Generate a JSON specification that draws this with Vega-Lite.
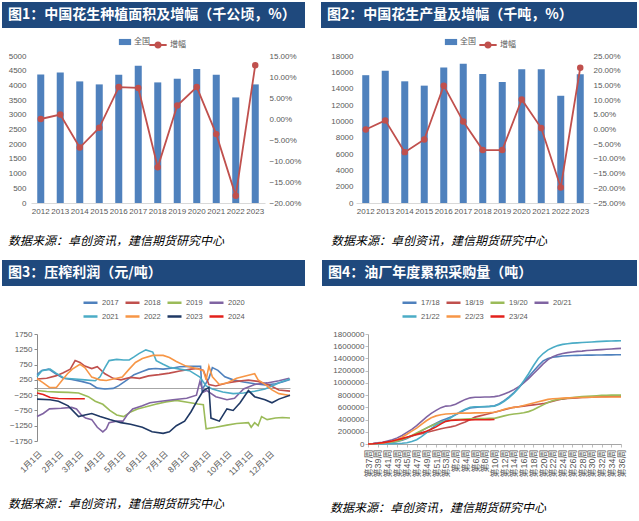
{
"$schema": "https://vega.github.io/schema/vega-lite/v6.json",
"padding": {"left": 2, "top": 2, "right": 0, "bottom": 0},
"background": "white",
"config": {
  "font": "Noto Sans CJK SC",
  "view": {"stroke": null},
  "axis": {"grid": false, "labelFont": "Liberation Sans, Noto Sans CJK SC", "labelFontSize": 8, "labelColor": "#595959", "domainColor": "#BFBFBF", "tickColor": "#BFBFBF", "labelOverlap": false, "labelFlush": false},
  "legend": {"labelFont": "Liberation Sans, Noto Sans CJK SC", "labelColor": "#595959"},
  "text": {"font": "Noto Sans CJK SC"}
},
"spacing": 13,
"resolve": {"scale": {"color": "independent", "fill": "independent", "stroke": "independent"}},
"vconcat": [
 {
  "spacing": 16,
  "resolve": {"scale": {"color": "independent", "fill": "independent", "stroke": "independent"}},
  "hconcat": [
   {
    "spacing": 7,
    "resolve": {"scale": {"color": "independent", "fill": "independent", "stroke": "independent"}},
    "vconcat": [
     {"width": 303, "height": 26, "view": {"fill": "#1F497D", "stroke": null},
      "data": {"values": [{"t": "图1：中国花生种植面积及增幅（千公顷，%）"}]},
      "mark": {"type": "text", "align": "left", "baseline": "middle", "color": "white", "fontSize": 14, "fontWeight": "bold", "dx": 6},
      "encoding": {"text": {"field": "t"}, "x": {"datum": 0, "type": "quantitative", "scale": {"domain": [0, 1]}, "axis": null}}},
     {"width": 303, "height": 147,
      "data": {"values": [
        {"year": "2012", "area": 4375, "growth": 0.0},
        {"year": "2013", "area": 4443, "growth": 0.0105},
        {"year": "2014", "area": 4136, "growth": -0.068},
        {"year": "2015", "area": 4034, "growth": -0.021},
        {"year": "2016", "area": 4364, "growth": 0.076},
        {"year": "2017", "area": 4670, "growth": 0.074},
        {"year": "2018", "area": 4102, "growth": -0.115},
        {"year": "2019", "area": 4227, "growth": 0.032},
        {"year": "2020", "area": 4557, "growth": 0.076},
        {"year": "2021", "area": 4364, "growth": -0.036},
        {"year": "2022", "area": 3591, "growth": -0.183},
        {"year": "2023", "area": 4034, "growth": 0.128}
      ]},
      "title": {"text": "数据来源：卓创资讯，建信期货研究中心", "orient": "bottom", "anchor": "start", "frame": "bounds", "offset": 21, "fontSize": 12, "fontStyle": "italic", "fontWeight": "normal", "color": "#000000", "font": "Noto Sans CJK SC", "dx": 6},
      "encoding": {"x": {"field": "year", "type": "ordinal", "title": null, "scale": {"paddingInner": 0, "paddingOuter": 0, "range": [29, 263]}, "axis": {"labelAngle": 0, "ticks": false, "domainColor": "#D9D9D9", "labelPadding": 4, "labelOverlap": false}}},
      "layer": [
        {"mark": {"type": "bar", "width": {"band": 0.36}},
         "encoding": {
           "y": {"field": "area", "type": "quantitative", "title": null, "scale": {"domain": [0, 5000], "nice": false}, "axis": {"values": [0, 500, 1000, 1500, 2000, 2500, 3000, 3500, 4000, 4500, 5000], "format": "d", "domain": false, "ticks": false, "offset": -29, "labelPadding": 5, "labelOverlap": false}},
           "fill": {"datum": "全国", "type": "nominal", "scale": {"range": ["#4F81BD"]}, "legend": {"orient": "none", "legendX": 116, "legendY": -21, "title": null, "symbolType": "M-1,-0.5H1V0.5H-1Z", "symbolSize": 150, "labelFontSize": 8, "labelOffset": 2}}
         }},
        {"mark": {"type": "line", "strokeWidth": 1.8, "point": {"filled": true, "size": 20, "color": "#C0504D"}},
         "encoding": {
           "y": {"field": "growth", "type": "quantitative", "title": null, "scale": {"domain": [-0.2, 0.15], "nice": false}, "axis": {"orient": "right", "format": ".2%", "values": [-0.2, -0.15, -0.1, -0.05, 0, 0.05, 0.1, 0.15], "domain": false, "ticks": false, "offset": -40, "labelPadding": 4, "labelOverlap": false}},
           "stroke": {"datum": "增幅", "type": "nominal", "scale": {"range": ["#C0504D"]}, "legend": {"orient": "none", "legendX": 146, "legendY": -21, "title": null, "symbolType": "M-1,0H1M0.3,0A0.3,0.3,0,1,1,-0.3,0A0.3,0.3,0,1,1,0.3,0", "symbolSize": 300, "symbolStrokeWidth": 1.8, "symbolFillColor": "#C0504D", "labelFontSize": 8, "labelOffset": 2}}
         }}
      ],
      "resolve": {"scale": {"y": "independent"}}
     }
    ]
   },
   {
    "spacing": 7,
    "resolve": {"scale": {"color": "independent", "fill": "independent", "stroke": "independent"}},
    "vconcat": [
     {"width": 316, "height": 26, "view": {"fill": "#1F497D", "stroke": null},
      "data": {"values": [{"t": "图2：中国花生产量及增幅（千吨，%）"}]},
      "mark": {"type": "text", "align": "left", "baseline": "middle", "color": "white", "fontSize": 14, "fontWeight": "bold", "dx": 6},
      "encoding": {"text": {"field": "t"}, "x": {"datum": 0, "type": "quantitative", "scale": {"domain": [0, 1]}, "axis": null}}},
     {"width": 316, "height": 147,
      "data": {"values": [
        {"year": "2012", "prod": 15650, "growth": 0.0},
        {"year": "2013", "prod": 16190, "growth": 0.031},
        {"year": "2014", "prod": 14900, "growth": -0.077},
        {"year": "2015", "prod": 14370, "growth": -0.034},
        {"year": "2016", "prod": 16600, "growth": 0.149},
        {"year": "2017", "prod": 17050, "growth": 0.027},
        {"year": "2018", "prod": 15810, "growth": -0.07},
        {"year": "2019", "prod": 14820, "growth": -0.07},
        {"year": "2020", "prod": 16390, "growth": 0.102},
        {"year": "2021", "prod": 16390, "growth": 0.005},
        {"year": "2022", "prod": 13130, "growth": -0.197},
        {"year": "2023", "prod": 15770, "growth": 0.21}
      ]},
      "title": {"text": "数据来源：卓创资讯，建信期货研究中心", "orient": "bottom", "anchor": "start", "frame": "bounds", "offset": 21, "fontSize": 12, "fontStyle": "italic", "fontWeight": "normal", "color": "#000000", "font": "Noto Sans CJK SC", "dx": 10},
      "encoding": {"x": {"field": "year", "type": "ordinal", "title": null, "scale": {"paddingInner": 0, "paddingOuter": 0, "range": [35, 269]}, "axis": {"labelAngle": 0, "ticks": false, "domainColor": "#D9D9D9", "labelPadding": 4, "labelOverlap": false}}},
      "layer": [
        {"mark": {"type": "bar", "width": {"band": 0.36}},
         "encoding": {
           "y": {"field": "prod", "type": "quantitative", "title": null, "scale": {"domain": [0, 18000], "nice": false}, "axis": {"values": [0, 2000, 4000, 6000, 8000, 10000, 12000, 14000, 16000, 18000], "format": "d", "domain": false, "ticks": false, "offset": -35, "labelPadding": 3, "labelOverlap": false}},
           "fill": {"datum": "全国", "type": "nominal", "scale": {"range": ["#4F81BD"]}, "legend": {"orient": "none", "legendX": 123, "legendY": -21, "title": null, "symbolType": "M-1,-0.5H1V0.5H-1Z", "symbolSize": 150, "labelFontSize": 8, "labelOffset": 2}}
         }},
        {"mark": {"type": "line", "strokeWidth": 1.8, "point": {"filled": true, "size": 20, "color": "#C0504D"}},
         "encoding": {
           "y": {"field": "growth", "type": "quantitative", "title": null, "scale": {"domain": [-0.25, 0.25], "nice": false}, "axis": {"orient": "right", "format": ".2%", "values": [-0.25, -0.2, -0.15, -0.1, -0.05, 0, 0.05, 0.1, 0.15, 0.2, 0.25], "domain": false, "ticks": false, "offset": -47, "labelPadding": 3, "labelOverlap": false}},
           "stroke": {"datum": "增幅", "type": "nominal", "scale": {"range": ["#C0504D"]}, "legend": {"orient": "none", "legendX": 157, "legendY": -21, "title": null, "symbolType": "M-1,0H1M0.3,0A0.3,0.3,0,1,1,-0.3,0A0.3,0.3,0,1,1,0.3,0", "symbolSize": 300, "symbolStrokeWidth": 1.8, "symbolFillColor": "#C0504D", "labelFontSize": 8, "labelOffset": 2}}
         }}
      ],
      "resolve": {"scale": {"y": "independent"}}
     }
    ]
   }
  ]
 },
 {
  "spacing": 17,
  "resolve": {"scale": {"color": "independent", "fill": "independent", "stroke": "independent"}},
  "hconcat": [
   {
    "spacing": 8,
    "resolve": {"scale": {"color": "independent", "fill": "independent", "stroke": "independent"}},
    "vconcat": [
     {"width": 303, "height": 26, "view": {"fill": "#1F497D", "stroke": null},
      "data": {"values": [{"t": "图3：压榨利润（元/吨）"}]},
      "mark": {"type": "text", "align": "left", "baseline": "middle", "color": "white", "fontSize": 14, "fontWeight": "bold", "dx": 6},
      "encoding": {"text": {"field": "t"}, "x": {"datum": 0, "type": "quantitative", "scale": {"domain": [0, 1]}, "axis": null}}},
     {"width": 303, "height": 107,
      "data": {"values": [
        {"yr": "2017", "d": "2000/01/01", "v": 420}, {"yr": "2017", "d": "2000/01/08", "v": 560}, {"yr": "2017", "d": "2000/01/18", "v": 600}, {"yr": "2017", "d": "2000/01/28", "v": 450}, {"yr": "2017", "d": "2000/02/08", "v": 300}, {"yr": "2017", "d": "2000/02/20", "v": 260}, {"yr": "2017", "d": "2000/03/05", "v": 200}, {"yr": "2017", "d": "2000/03/18", "v": 120}, {"yr": "2017", "d": "2000/03/28", "v": -20}, {"yr": "2017", "d": "2000/04/08", "v": -50}, {"yr": "2017", "d": "2000/04/20", "v": -30}, {"yr": "2017", "d": "2000/04/28", "v": 60}, {"yr": "2017", "d": "2000/05/10", "v": 250}, {"yr": "2017", "d": "2000/05/20", "v": 420}, {"yr": "2017", "d": "2000/06/01", "v": 520}, {"yr": "2017", "d": "2000/06/10", "v": 600}, {"yr": "2017", "d": "2000/06/20", "v": 620}, {"yr": "2017", "d": "2000/07/01", "v": 600}, {"yr": "2017", "d": "2000/07/15", "v": 640}, {"yr": "2017", "d": "2000/07/25", "v": 680}, {"yr": "2017", "d": "2000/08/10", "v": 690}, {"yr": "2017", "d": "2000/08/24", "v": 690}, {"yr": "2017", "d": "2000/08/26", "v": -80}, {"yr": "2017", "d": "2000/09/05", "v": 300}, {"yr": "2017", "d": "2000/09/10", "v": 650}, {"yr": "2017", "d": "2000/09/18", "v": 560}, {"yr": "2017", "d": "2000/09/28", "v": 350}, {"yr": "2017", "d": "2000/10/10", "v": 250}, {"yr": "2017", "d": "2000/10/25", "v": 180}, {"yr": "2017", "d": "2000/11/10", "v": 120}, {"yr": "2017", "d": "2000/11/25", "v": 80}, {"yr": "2017", "d": "2000/12/10", "v": 120}, {"yr": "2017", "d": "2000/12/20", "v": 180}, {"yr": "2017", "d": "2000/12/31", "v": 260},
        {"yr": "2018", "d": "2000/01/01", "v": 280}, {"yr": "2018", "d": "2000/01/15", "v": 300}, {"yr": "2018", "d": "2000/01/28", "v": 380}, {"yr": "2018", "d": "2000/02/08", "v": 480}, {"yr": "2018", "d": "2000/02/18", "v": 600}, {"yr": "2018", "d": "2000/02/25", "v": 880}, {"yr": "2018", "d": "2000/03/03", "v": 820}, {"yr": "2018", "d": "2000/03/10", "v": 700}, {"yr": "2018", "d": "2000/03/20", "v": 620}, {"yr": "2018", "d": "2000/03/28", "v": 680}, {"yr": "2018", "d": "2000/04/08", "v": 450}, {"yr": "2018", "d": "2000/04/20", "v": 300}, {"yr": "2018", "d": "2000/05/01", "v": 250}, {"yr": "2018", "d": "2000/05/15", "v": 330}, {"yr": "2018", "d": "2000/05/28", "v": 300}, {"yr": "2018", "d": "2000/06/10", "v": 380}, {"yr": "2018", "d": "2000/06/25", "v": 420}, {"yr": "2018", "d": "2000/07/10", "v": 470}, {"yr": "2018", "d": "2000/07/25", "v": 540}, {"yr": "2018", "d": "2000/08/10", "v": 600}, {"yr": "2018", "d": "2000/08/20", "v": 620}, {"yr": "2018", "d": "2000/08/28", "v": 560}, {"yr": "2018", "d": "2000/09/05", "v": 100}, {"yr": "2018", "d": "2000/09/15", "v": 50}, {"yr": "2018", "d": "2000/10/01", "v": 150}, {"yr": "2018", "d": "2000/10/15", "v": 200}, {"yr": "2018", "d": "2000/11/01", "v": 240}, {"yr": "2018", "d": "2000/11/15", "v": 200}, {"yr": "2018", "d": "2000/12/01", "v": 80}, {"yr": "2018", "d": "2000/12/15", "v": -80}, {"yr": "2018", "d": "2000/12/31", "v": -120},
        {"yr": "2019", "d": "2000/01/01", "v": -100}, {"yr": "2019", "d": "2000/01/15", "v": -130}, {"yr": "2019", "d": "2000/02/01", "v": -150}, {"yr": "2019", "d": "2000/02/15", "v": -160}, {"yr": "2019", "d": "2000/03/01", "v": -180}, {"yr": "2019", "d": "2000/03/15", "v": -300}, {"yr": "2019", "d": "2000/03/25", "v": -450}, {"yr": "2019", "d": "2000/04/05", "v": -550}, {"yr": "2019", "d": "2000/04/15", "v": -750}, {"yr": "2019", "d": "2000/04/25", "v": -900}, {"yr": "2019", "d": "2000/05/05", "v": -950}, {"yr": "2019", "d": "2000/05/15", "v": -800}, {"yr": "2019", "d": "2000/05/25", "v": -700}, {"yr": "2019", "d": "2000/06/05", "v": -640}, {"yr": "2019", "d": "2000/06/20", "v": -550}, {"yr": "2019", "d": "2000/07/05", "v": -470}, {"yr": "2019", "d": "2000/07/20", "v": -420}, {"yr": "2019", "d": "2000/08/05", "v": -480}, {"yr": "2019", "d": "2000/08/20", "v": -540}, {"yr": "2019", "d": "2000/08/28", "v": -560}, {"yr": "2019", "d": "2000/09/01", "v": -1350}, {"yr": "2019", "d": "2000/09/15", "v": -1300}, {"yr": "2019", "d": "2000/10/01", "v": -1230}, {"yr": "2019", "d": "2000/10/15", "v": -1180}, {"yr": "2019", "d": "2000/11/01", "v": -1150}, {"yr": "2019", "d": "2000/11/05", "v": -1300}, {"yr": "2019", "d": "2000/11/10", "v": -1150}, {"yr": "2019", "d": "2000/11/15", "v": -1250}, {"yr": "2019", "d": "2000/11/20", "v": -950}, {"yr": "2019", "d": "2000/11/28", "v": -1050}, {"yr": "2019", "d": "2000/12/10", "v": -1000}, {"yr": "2019", "d": "2000/12/20", "v": -980}, {"yr": "2019", "d": "2000/12/31", "v": -1000},
        {"yr": "2020", "d": "2000/01/01", "v": -950}, {"yr": "2020", "d": "2000/01/10", "v": -850}, {"yr": "2020", "d": "2000/01/19", "v": -700}, {"yr": "2020", "d": "2000/02/05", "v": -680}, {"yr": "2020", "d": "2000/02/20", "v": -650}, {"yr": "2020", "d": "2000/02/27", "v": -700}, {"yr": "2020", "d": "2000/03/05", "v": -900}, {"yr": "2020", "d": "2000/03/11", "v": -1000}, {"yr": "2020", "d": "2000/03/20", "v": -1050}, {"yr": "2020", "d": "2000/03/28", "v": -1300}, {"yr": "2020", "d": "2000/04/05", "v": -1450}, {"yr": "2020", "d": "2000/04/10", "v": -1350}, {"yr": "2020", "d": "2000/04/14", "v": -1150}, {"yr": "2020", "d": "2000/04/25", "v": -1100}, {"yr": "2020", "d": "2000/05/04", "v": -1100}, {"yr": "2020", "d": "2000/05/10", "v": -900}, {"yr": "2020", "d": "2000/05/18", "v": -700}, {"yr": "2020", "d": "2000/06/01", "v": -600}, {"yr": "2020", "d": "2000/06/12", "v": -500}, {"yr": "2020", "d": "2000/06/28", "v": -450}, {"yr": "2020", "d": "2000/07/15", "v": -400}, {"yr": "2020", "d": "2000/08/04", "v": -350}, {"yr": "2020", "d": "2000/08/18", "v": -250}, {"yr": "2020", "d": "2000/08/23", "v": 200}, {"yr": "2020", "d": "2000/08/28", "v": -150}, {"yr": "2020", "d": "2000/09/02", "v": -100}, {"yr": "2020", "d": "2000/09/15", "v": -300}, {"yr": "2020", "d": "2000/10/01", "v": -400}, {"yr": "2020", "d": "2000/10/12", "v": -350}, {"yr": "2020", "d": "2000/10/25", "v": -50}, {"yr": "2020", "d": "2000/11/10", "v": 100}, {"yr": "2020", "d": "2000/11/28", "v": 150}, {"yr": "2020", "d": "2000/12/15", "v": 220}, {"yr": "2020", "d": "2000/12/30", "v": 300},
        {"yr": "2021", "d": "2000/01/01", "v": 350}, {"yr": "2021", "d": "2000/01/08", "v": 550}, {"yr": "2021", "d": "2000/01/20", "v": 600}, {"yr": "2021", "d": "2000/01/29", "v": 460}, {"yr": "2021", "d": "2000/02/10", "v": 300}, {"yr": "2021", "d": "2000/02/25", "v": 280}, {"yr": "2021", "d": "2000/03/10", "v": 250}, {"yr": "2021", "d": "2000/03/25", "v": 220}, {"yr": "2021", "d": "2000/04/01", "v": 350}, {"yr": "2021", "d": "2000/04/08", "v": 650}, {"yr": "2021", "d": "2000/04/14", "v": 880}, {"yr": "2021", "d": "2000/04/25", "v": 920}, {"yr": "2021", "d": "2000/05/05", "v": 900}, {"yr": "2021", "d": "2000/05/13", "v": 900}, {"yr": "2021", "d": "2000/05/20", "v": 1000}, {"yr": "2021", "d": "2000/05/27", "v": 1110}, {"yr": "2021", "d": "2000/06/06", "v": 1230}, {"yr": "2021", "d": "2000/06/16", "v": 1160}, {"yr": "2021", "d": "2000/06/21", "v": 880}, {"yr": "2021", "d": "2000/07/01", "v": 760}, {"yr": "2021", "d": "2000/07/10", "v": 660}, {"yr": "2021", "d": "2000/07/25", "v": 600}, {"yr": "2021", "d": "2000/08/08", "v": 550}, {"yr": "2021", "d": "2000/08/23", "v": 340}, {"yr": "2021", "d": "2000/09/01", "v": 50}, {"yr": "2021", "d": "2000/09/10", "v": -50}, {"yr": "2021", "d": "2000/09/25", "v": -150}, {"yr": "2021", "d": "2000/10/10", "v": -200}, {"yr": "2021", "d": "2000/10/25", "v": -180}, {"yr": "2021", "d": "2000/11/10", "v": -120}, {"yr": "2021", "d": "2000/11/25", "v": -50}, {"yr": "2021", "d": "2000/12/10", "v": 100}, {"yr": "2021", "d": "2000/12/20", "v": 200}, {"yr": "2021", "d": "2000/12/31", "v": 280},
        {"yr": "2022", "d": "2000/01/01", "v": 290}, {"yr": "2022", "d": "2000/01/10", "v": 150}, {"yr": "2022", "d": "2000/01/19", "v": 0}, {"yr": "2022", "d": "2000/01/29", "v": 0}, {"yr": "2022", "d": "2000/02/06", "v": 230}, {"yr": "2022", "d": "2000/02/14", "v": 450}, {"yr": "2022", "d": "2000/02/21", "v": 600}, {"yr": "2022", "d": "2000/03/03", "v": 760}, {"yr": "2022", "d": "2000/03/10", "v": 650}, {"yr": "2022", "d": "2000/03/20", "v": 340}, {"yr": "2022", "d": "2000/04/01", "v": 250}, {"yr": "2022", "d": "2000/04/10", "v": 230}, {"yr": "2022", "d": "2000/04/20", "v": 280}, {"yr": "2022", "d": "2000/05/03", "v": 340}, {"yr": "2022", "d": "2000/05/13", "v": 600}, {"yr": "2022", "d": "2000/05/22", "v": 820}, {"yr": "2022", "d": "2000/06/01", "v": 950}, {"yr": "2022", "d": "2000/06/16", "v": 1050}, {"yr": "2022", "d": "2000/07/01", "v": 1050}, {"yr": "2022", "d": "2000/07/10", "v": 980}, {"yr": "2022", "d": "2000/07/20", "v": 850}, {"yr": "2022", "d": "2000/08/03", "v": 700}, {"yr": "2022", "d": "2000/08/18", "v": 620}, {"yr": "2022", "d": "2000/08/28", "v": 550}, {"yr": "2022", "d": "2000/09/01", "v": 250}, {"yr": "2022", "d": "2000/09/05", "v": 700}, {"yr": "2022", "d": "2000/09/10", "v": 350}, {"yr": "2022", "d": "2000/09/20", "v": 100}, {"yr": "2022", "d": "2000/10/01", "v": 150}, {"yr": "2022", "d": "2000/10/15", "v": 300}, {"yr": "2022", "d": "2000/11/01", "v": 400}, {"yr": "2022", "d": "2000/11/10", "v": 450}, {"yr": "2022", "d": "2000/11/15", "v": 250}, {"yr": "2022", "d": "2000/11/25", "v": 100}, {"yr": "2022", "d": "2000/12/05", "v": -80}, {"yr": "2022", "d": "2000/12/15", "v": -200}, {"yr": "2022", "d": "2000/12/31", "v": -260},
        {"yr": "2023", "d": "2000/01/01", "v": -380}, {"yr": "2023", "d": "2000/01/20", "v": -400}, {"yr": "2023", "d": "2000/02/01", "v": -450}, {"yr": "2023", "d": "2000/02/15", "v": -600}, {"yr": "2023", "d": "2000/03/01", "v": -950}, {"yr": "2023", "d": "2000/03/10", "v": -900}, {"yr": "2023", "d": "2000/03/20", "v": -850}, {"yr": "2023", "d": "2000/04/01", "v": -950}, {"yr": "2023", "d": "2000/04/15", "v": -1050}, {"yr": "2023", "d": "2000/05/01", "v": -1150}, {"yr": "2023", "d": "2000/05/15", "v": -1200}, {"yr": "2023", "d": "2000/06/01", "v": -1300}, {"yr": "2023", "d": "2000/06/15", "v": -1450}, {"yr": "2023", "d": "2000/07/01", "v": -1500}, {"yr": "2023", "d": "2000/07/10", "v": -1450}, {"yr": "2023", "d": "2000/07/20", "v": -1250}, {"yr": "2023", "d": "2000/08/01", "v": -1100}, {"yr": "2023", "d": "2000/08/10", "v": -800}, {"yr": "2023", "d": "2000/08/20", "v": -400}, {"yr": "2023", "d": "2000/08/28", "v": -100}, {"yr": "2023", "d": "2000/09/05", "v": 0}, {"yr": "2023", "d": "2000/09/08", "v": -1000}, {"yr": "2023", "d": "2000/09/20", "v": -1100}, {"yr": "2023", "d": "2000/10/01", "v": -700}, {"yr": "2023", "d": "2000/10/10", "v": -750}, {"yr": "2023", "d": "2000/10/20", "v": -500}, {"yr": "2023", "d": "2000/11/01", "v": -100}, {"yr": "2023", "d": "2000/11/10", "v": -300}, {"yr": "2023", "d": "2000/11/25", "v": -400}, {"yr": "2023", "d": "2000/12/05", "v": -500}, {"yr": "2023", "d": "2000/12/15", "v": -380}, {"yr": "2023", "d": "2000/12/31", "v": -250},
        {"yr": "2024", "d": "2000/01/01", "v": -180}, {"yr": "2024", "d": "2000/01/10", "v": -230}, {"yr": "2024", "d": "2000/01/20", "v": -330}, {"yr": "2024", "d": "2000/02/01", "v": -360}, {"yr": "2024", "d": "2000/02/20", "v": -370}, {"yr": "2024", "d": "2000/03/10", "v": -370}
      ]},
      "title": {"text": "数据来源：卓创资讯，建信期货研究中心", "orient": "bottom", "anchor": "start", "frame": "bounds", "offset": 22, "fontSize": 12, "fontStyle": "italic", "fontWeight": "normal", "color": "#000000", "font": "Noto Sans CJK SC", "dx": 6},
      "mark": {"type": "line", "strokeWidth": 1.6},
      "encoding": {
        "x": {"field": "d", "type": "temporal", "title": null, "scale": {"domain": [{"year": 2000, "month": 1, "date": 1}, {"year": 2000, "month": 12, "date": 31}], "range": [35, 288], "nice": false},
              "axis": {"values": [{"year": 2000, "month": 1, "date": 1}, {"year": 2000, "month": 2, "date": 1}, {"year": 2000, "month": 3, "date": 1}, {"year": 2000, "month": 4, "date": 1}, {"year": 2000, "month": 5, "date": 1}, {"year": 2000, "month": 6, "date": 1}, {"year": 2000, "month": 7, "date": 1}, {"year": 2000, "month": 8, "date": 1}, {"year": 2000, "month": 9, "date": 1}, {"year": 2000, "month": 10, "date": 1}, {"year": 2000, "month": 11, "date": 1}, {"year": 2000, "month": 12, "date": 1}], "format": "%-m月%-d日", "labelAngle": -45, "labelFontSize": 8.5, "domain": false, "ticks": false, "labelPadding": 8, "labelOverlap": false}},
        "y": {"field": "v", "type": "quantitative", "title": null, "scale": {"domain": [-1750, 1750], "nice": false},
              "axis": {"values": [-1750, -1250, -750, -250, 0, 250, 750, 1250, 1750], "format": "d", "domain": true, "ticks": true, "tickSize": 3, "offset": -35, "labelPadding": 2, "domainColor": "#8C8C8C", "tickColor": "#8C8C8C", "labelOverlap": false,
                       "grid": true, "gridColor": {"condition": {"test": "datum.value === 0", "value": "#A6A6A6"}, "value": "transparent"},
                       "labelColor": {"condition": {"test": "datum.value === 0", "value": "transparent"}, "value": "#595959"}}},
        "color": {"field": "yr", "type": "nominal", "scale": {"domain": ["2017", "2018", "2019", "2020", "2021", "2022", "2023", "2024"], "range": ["#4F81BD", "#C0504D", "#9BBB59", "#8064A2", "#4BACC6", "#F79646", "#1F3864", "#E3201B"]},
                  "legend": {"orient": "none", "legendX": 80, "legendY": -40, "title": null, "columns": 4, "direction": "horizontal", "symbolType": "stroke", "symbolSize": 196, "symbolStrokeWidth": 2.5, "labelFontSize": 7.5, "labelOffset": 3, "columnPadding": 1, "rowPadding": 0}},
        "strokeWidth": {"condition": {"test": "datum.yr === '2024'", "value": 2.6}, "value": 1.5}
      }
     }
    ]
   },
   {
    "spacing": 8,
    "resolve": {"scale": {"color": "independent", "fill": "independent", "stroke": "independent"}},
    "vconcat": [
     {"width": 315, "height": 26, "view": {"fill": "#1F497D", "stroke": null},
      "data": {"values": [{"t": "图4：油厂年度累积采购量（吨）"}]},
      "mark": {"type": "text", "align": "left", "baseline": "middle", "color": "white", "fontSize": 14, "fontWeight": "bold", "dx": 6},
      "encoding": {"text": {"field": "t"}, "x": {"datum": 0, "type": "quantitative", "scale": {"domain": [0, 1]}, "axis": null}}},
     {"width": 315, "height": 110,
      "data": {"values": [
        {"w": "第37周", "17/18": 0, "18/19": 0, "19/20": 0, "20/21": 0, "21/22": 0, "22/23": 0, "23/24": 0},
        {"w": "第38周", "17/18": 3000, "18/19": 5000, "19/20": 2000, "20/21": 8000, "21/22": 0, "22/23": 3000, "23/24": 5000},
        {"w": "第39周", "17/18": 6000, "18/19": 12000, "19/20": 5000, "20/21": 18000, "21/22": 0, "22/23": 8000, "23/24": 12000},
        {"w": "第40周", "17/18": 10000, "18/19": 22000, "19/20": 10000, "20/21": 30000, "21/22": 2000, "22/23": 15000, "23/24": 22000},
        {"w": "第41周", "17/18": 15000, "18/19": 35000, "19/20": 18000, "20/21": 50000, "21/22": 4000, "22/23": 28000, "23/24": 35000},
        {"w": "第42周", "17/18": 25000, "18/19": 50000, "19/20": 30000, "20/21": 70000, "21/22": 6000, "22/23": 45000, "23/24": 50000},
        {"w": "第43周", "17/18": 40000, "18/19": 70000, "19/20": 45000, "20/21": 100000, "21/22": 8000, "22/23": 70000, "23/24": 68000},
        {"w": "第44周", "17/18": 60000, "18/19": 90000, "19/20": 70000, "20/21": 140000, "21/22": 12000, "22/23": 110000, "23/24": 88000},
        {"w": "第45周", "17/18": 90000, "18/19": 110000, "19/20": 100000, "20/21": 190000, "21/22": 20000, "22/23": 160000, "23/24": 110000},
        {"w": "第46周", "17/18": 130000, "18/19": 130000, "19/20": 140000, "20/21": 240000, "21/22": 40000, "22/23": 210000, "23/24": 135000},
        {"w": "第47周", "17/18": 170000, "18/19": 150000, "19/20": 180000, "20/21": 300000, "21/22": 70000, "22/23": 260000, "23/24": 160000},
        {"w": "第48周", "17/18": 215000, "18/19": 170000, "19/20": 220000, "20/21": 370000, "21/22": 120000, "22/23": 320000, "23/24": 185000},
        {"w": "第49周", "17/18": 260000, "18/19": 190000, "19/20": 260000, "20/21": 440000, "21/22": 180000, "22/23": 380000, "23/24": 210000},
        {"w": "第50周", "17/18": 300000, "18/19": 210000, "19/20": 300000, "20/21": 500000, "21/22": 250000, "22/23": 430000, "23/24": 240000},
        {"w": "第51周", "17/18": 340000, "18/19": 230000, "19/20": 330000, "20/21": 550000, "21/22": 310000, "22/23": 460000, "23/24": 280000},
        {"w": "第52周", "17/18": 380000, "18/19": 250000, "19/20": 360000, "20/21": 595000, "21/22": 350000, "22/23": 480000, "23/24": 330000},
        {"w": "第53周", "17/18": 410000, "18/19": 265000, "19/20": 380000, "20/21": 620000, "21/22": 380000, "22/23": 490000, "23/24": 370000},
        {"w": "第1周", "17/18": 440000, "18/19": 280000, "19/20": 390000, "20/21": 625000, "21/22": 430000, "22/23": 495000, "23/24": 385000},
        {"w": "第2周", "17/18": 480000, "18/19": 300000, "19/20": 400000, "20/21": 650000, "21/22": 480000, "22/23": 500000, "23/24": 390000},
        {"w": "第3周", "17/18": 520000, "18/19": 330000, "19/20": 405000, "20/21": 690000, "21/22": 530000, "22/23": 505000, "23/24": 392000},
        {"w": "第4周", "17/18": 560000, "18/19": 360000, "19/20": 410000, "20/21": 730000, "21/22": 570000, "22/23": 505000, "23/24": 394000},
        {"w": "第5周", "17/18": 590000, "18/19": 400000, "19/20": 412000, "20/21": 755000, "21/22": 600000, "22/23": 505000, "23/24": 395000},
        {"w": "第6周", "17/18": 600000, "18/19": 440000, "19/20": 414000, "20/21": 765000, "21/22": 610000, "22/23": 510000, "23/24": 396000},
        {"w": "第7周", "17/18": 605000, "18/19": 460000, "19/20": 416000, "20/21": 765000, "21/22": 610000, "22/23": 510000, "23/24": 397000},
        {"w": "第8周", "17/18": 610000, "18/19": 480000, "19/20": 418000, "20/21": 770000, "21/22": 612000, "22/23": 512000, "23/24": 398000},
        {"w": "第9周", "17/18": 615000, "18/19": 500000, "19/20": 420000, "20/21": 770000, "21/22": 615000, "22/23": 515000, "23/24": 399000},
        {"w": "第10周", "17/18": 625000, "18/19": 520000, "19/20": 420000, "20/21": 775000, "21/22": 620000, "22/23": 520000, "23/24": 400000},
        {"w": "第11周", "17/18": 660000, "18/19": 540000, "19/20": 440000, "20/21": 790000, "21/22": 650000, "22/23": 540000},
        {"w": "第12周", "17/18": 710000, "18/19": 560000, "19/20": 460000, "20/21": 820000, "21/22": 700000, "22/23": 570000},
        {"w": "第13周", "17/18": 770000, "18/19": 580000, "19/20": 480000, "20/21": 850000, "21/22": 760000, "22/23": 590000},
        {"w": "第14周", "17/18": 840000, "18/19": 600000, "19/20": 490000, "20/21": 890000, "21/22": 830000, "22/23": 600000},
        {"w": "第15周", "17/18": 920000, "18/19": 610000, "19/20": 500000, "20/21": 940000, "21/22": 920000, "22/23": 610000},
        {"w": "第16周", "17/18": 1010000, "18/19": 620000, "19/20": 510000, "20/21": 1000000, "21/22": 1030000, "22/23": 630000},
        {"w": "第17周", "17/18": 1100000, "18/19": 630000, "19/20": 530000, "20/21": 1070000, "21/22": 1150000, "22/23": 650000},
        {"w": "第18周", "17/18": 1190000, "18/19": 640000, "19/20": 560000, "20/21": 1150000, "21/22": 1280000, "22/23": 670000},
        {"w": "第19周", "17/18": 1280000, "18/19": 650000, "19/20": 600000, "20/21": 1230000, "21/22": 1400000, "22/23": 690000},
        {"w": "第20周", "17/18": 1360000, "18/19": 660000, "19/20": 640000, "20/21": 1310000, "21/22": 1480000, "22/23": 710000},
        {"w": "第21周", "17/18": 1400000, "18/19": 680000, "19/20": 680000, "20/21": 1380000, "21/22": 1540000, "22/23": 730000},
        {"w": "第22周", "17/18": 1420000, "18/19": 700000, "19/20": 710000, "20/21": 1430000, "21/22": 1580000, "22/23": 740000},
        {"w": "第23周", "17/18": 1430000, "18/19": 720000, "19/20": 730000, "20/21": 1460000, "21/22": 1610000, "22/23": 745000},
        {"w": "第24周", "17/18": 1440000, "18/19": 735000, "19/20": 740000, "20/21": 1480000, "21/22": 1630000, "22/23": 750000},
        {"w": "第25周", "17/18": 1445000, "18/19": 745000, "19/20": 750000, "20/21": 1495000, "21/22": 1640000, "22/23": 755000},
        {"w": "第26周", "17/18": 1448000, "18/19": 750000, "19/20": 760000, "20/21": 1505000, "21/22": 1650000, "22/23": 758000},
        {"w": "第27周", "17/18": 1450000, "18/19": 755000, "19/20": 770000, "20/21": 1515000, "21/22": 1655000, "22/23": 760000},
        {"w": "第28周", "17/18": 1452000, "18/19": 760000, "19/20": 775000, "20/21": 1520000, "21/22": 1660000, "22/23": 762000},
        {"w": "第29周", "17/18": 1454000, "18/19": 763000, "19/20": 780000, "20/21": 1530000, "21/22": 1665000, "22/23": 764000},
        {"w": "第30周", "17/18": 1455000, "18/19": 766000, "19/20": 785000, "20/21": 1535000, "21/22": 1670000, "22/23": 766000},
        {"w": "第31周", "17/18": 1456000, "18/19": 769000, "19/20": 790000, "20/21": 1540000, "21/22": 1675000, "22/23": 768000},
        {"w": "第32周", "17/18": 1457000, "18/19": 772000, "19/20": 795000, "20/21": 1545000, "21/22": 1680000, "22/23": 770000},
        {"w": "第33周", "17/18": 1458000, "18/19": 775000, "19/20": 798000, "20/21": 1550000, "21/22": 1683000, "22/23": 770000},
        {"w": "第34周", "17/18": 1459000, "18/19": 777000, "19/20": 800000, "20/21": 1555000, "21/22": 1686000, "22/23": 770000},
        {"w": "第35周", "17/18": 1460000, "18/19": 779000, "19/20": 800000, "20/21": 1560000, "21/22": 1688000, "22/23": 770000},
        {"w": "第36周", "17/18": 1460000, "18/19": 780000, "19/20": 800000, "20/21": 1565000, "21/22": 1690000, "22/23": 770000}
      ]},
      "transform": [{"fold": ["17/18", "18/19", "19/20", "20/21", "21/22", "22/23", "23/24"], "as": ["s", "v"]}],
      "title": {"text": "数据来源：卓创资讯，建信期货研究中心", "orient": "bottom", "anchor": "start", "frame": "bounds", "offset": 26, "fontSize": 12, "fontStyle": "italic", "fontWeight": "normal", "color": "#000000", "font": "Noto Sans CJK SC", "dx": 8},
      "mark": {"type": "line", "strokeWidth": 1.6},
      "encoding": {
        "x": {"field": "w", "type": "nominal", "sort": null, "title": null, "scale": {"type": "point", "padding": 0, "range": [46, 299]},
              "axis": {"values": ["第37周", "第39周", "第41周", "第43周", "第45周", "第47周", "第49周", "第51周", "第53周", "第2周", "第4周", "第6周", "第8周", "第10周", "第12周", "第14周", "第16周", "第18周", "第20周", "第22周", "第24周", "第26周", "第28周", "第30周", "第32周", "第34周", "第36周"], "labelAngle": 270, "labelFontSize": 9, "tickSize": 3, "domainColor": "#A6A6A6", "labelPadding": 2, "labelOverlap": false}},
        "y": {"field": "v", "type": "quantitative", "title": null, "scale": {"domain": [0, 1800000], "nice": false}, "axis": {"values": [0, 200000, 400000, 600000, 800000, 1000000, 1200000, 1400000, 1600000, 1800000], "format": "d", "tickSize": 3, "offset": -46, "labelPadding": 1, "domainColor": "#A6A6A6", "labelOverlap": false}},
        "color": {"field": "s", "type": "nominal", "scale": {"domain": ["17/18", "18/19", "19/20", "20/21", "21/22", "22/23", "23/24"], "range": ["#4F81BD", "#C0504D", "#9BBB59", "#8064A2", "#4BACC6", "#F79646", "#E3201B"]},
                  "legend": {"orient": "none", "legendX": 79, "legendY": -40, "title": null, "columns": 4, "direction": "horizontal", "symbolType": "stroke", "symbolSize": 196, "symbolStrokeWidth": 2.5, "labelFontSize": 7.5, "labelOffset": 3, "columnPadding": 1, "rowPadding": 0}}
      }
     }
    ]
   }
  ]
 }
]
}
